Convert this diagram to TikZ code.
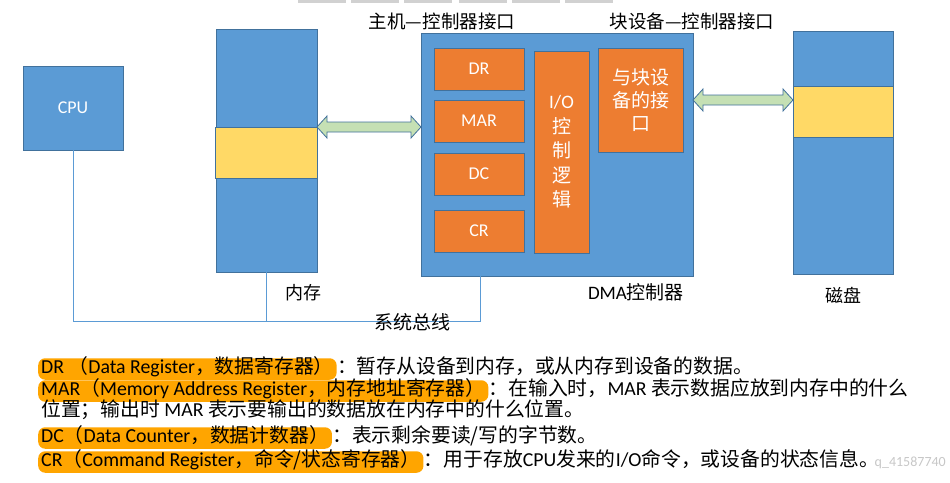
\documentclass[tikz,border=0pt]{standalone}
\usepackage{fontspec}
\setmainfont{Noto Sans CJK SC}
\newfontfamily\lat{Carlito}
\usetikzlibrary{positioning,calc}

\definecolor{boxblue}{HTML}{5B9BD5}
\definecolor{boxline}{HTML}{41719C}
\definecolor{boxorange}{HTML}{ED7D31}
\definecolor{storeyellow}{HTML}{FFD966}
\definecolor{arrowgreen}{HTML}{C5E0B4}
\definecolor{hlorange}{HTML}{FFA500}

\newcommand{\la}[1]{{\lat #1}}
% fat double arrow between two points at the height of the first one
\newcommand{\biarrow}[2]{%
  \draw[biarrowstyle] let \p1=(#1), \p2=(#2) in
    (\x1,\y1) -- (\x1+10pt,\y1+11pt) -- (\x1+10pt,\y1+5pt) -- (\x2-10pt,\y1+5pt)
    -- (\x2-10pt,\y1+11pt) -- (\x2,\y1) -- (\x2-10pt,\y1-11pt) -- (\x2-10pt,\y1-5pt)
    -- (\x1+10pt,\y1-5pt) -- (\x1+10pt,\y1-11pt) -- cycle;}

\tikzset{
  block/.style={draw=boxline, fill=boxblue, line width=0.8pt, inner sep=0pt, outer sep=0pt,
    anchor=north west, text=white, font=\lat\fontsize{18}{22}\selectfont},
  reg/.style={block, fill=boxorange, minimum width=90pt, minimum height=42pt},
  store/.style={block, fill=storeyellow},
  bus/.style={draw=boxblue, line width=0.8pt},
  biarrowstyle/.style={draw=boxline, fill=arrowgreen, line width=0.8pt},
  notefont/.style={font=\fontsize{19.8}{23}\selectfont},
  keymark/.style={notefont, fill=hlorange, rounded corners=7pt, anchor=west, inner xsep=3pt,
    inner ysep=1.5pt, text height=14pt, text depth=4.5pt},
  note/.style={notefont, inner xsep=0pt, inner ysep=1.5pt, text height=14pt, text depth=4.5pt},
  topbar/.style={fill=black!18},
}

\begin{document}
\begin{tikzpicture}[x=1pt, y=-1pt, node distance=10pt,
  every node/.style={font=\fontsize{19}{23}\selectfont}]
  \useasboundingbox (0,0) rectangle (950,482);
  \foreach \bx in {298,351,404,459,512,565}
    \fill[topbar] (\bx,0) rectangle ++(48,3);

  \node (cpu) [block, minimum width=100pt, minimum height=84pt] at (23,66) {CPU};

  \node (mem) [block, minimum width=101pt, minimum height=243pt] at (216,29) {};
  \node (memstore) [store, minimum width=102pt, minimum height=51pt] at (215,127) {};
  \node (memlabel) [font=\fontsize{18}{22}\selectfont] at (303,293) {内存};

  \node (dma) [block, minimum width=272pt, minimum height=243pt] at (421,33) {};
  \node (dr) [reg] at (434,48) {DR};
  \node (mar) [reg, below=10pt of dr] {MAR};
  \node (dc) [reg, below=11pt of mar] {DC};
  \node (cr) [reg, below=15pt of dc] {CR};
  \node (io) [reg, minimum width=55pt, minimum height=202pt, align=center,
    font=\fontsize{19}{24.5}\selectfont] at (534,51) {\la{I/O}\\控\\制\\逻\\辑};
  \node (iface) [reg, minimum width=85pt, minimum height=104pt, align=center,
    font=\fontsize{19}{23}\selectfont] at (598,48) {与块设\\备的接\\口};
  \node (dmalabel) at (636,292) {\la{DMA}控制器};

  \node (disk) [block, minimum width=100pt, minimum height=243pt] at (793,31) {};
  \node (diskstore) [store, minimum width=100pt, minimum height=51pt] at (793,86) {};
  \node (disklabel) [font=\fontsize{18}{22}\selectfont] at (843,295) {磁盘};

  \node (hostif) [font=\fontsize{18.5}{22}\selectfont] at (442,21) {主机—控制器接口};
  \node (devif) [font=\fontsize{18.5}{22}\selectfont] at (692,21) {块设备—控制器接口};

  % system bus
  \coordinate (busline) at (0,321);
  \coordinate (dmatap) at ($(dma.south west)+(59,0)$);
  \draw[bus] (cpu.south) -- (cpu.south |- busline) -- (dmatap |- busline) -- (dmatap);
  \draw[bus] (mem.south) -- (mem.south |- busline);
  \node (buslabel) at (412,322) {系统总线};

  \biarrow{memstore.north east}{memstore.north east -| dma.west}
  \biarrow{iface -| dma.east}{iface -| disk.west}

  % notes
  \node (drkey) [keymark] at (38,369) {\la{DR} （\la{Data Register}，数据寄存器）};
  \node (drnote) [note, right=0pt of drkey] {：暂存从设备到内存，或从内存到设备的数据。};
  \node (markey) [keymark] at (38,391) {\la{MAR}（\la{Memory Address Register}，内存地址寄存器）};
  \node (marnote) [note, right=0pt of markey] {：在输入时，\la{MAR} 表示数据应放到内存中的什么};
  \node (marnote2) [note, anchor=west] at (41,412) {位置；输出时 \la{MAR} 表示要输出的数据放在内存中的什么位置。};
  \node (dckey) [keymark] at (38,438) {\la{DC}（\la{Data Counter}，数据计数器）};
  \node (dcnote) [note, right=0pt of dckey] {：表示剩余要读/写的字节数。};
  \node (crkey) [keymark] at (38,462) {\la{CR}（\la{Command Register}，命令/状态寄存器）};
  \node (crnote) [note, right=0pt of crkey] {：用于存放\la{CPU}发来的\la{I/O}命令，或设备的状态信息。};
  \node (mark) [anchor=east, text=black!22, inner sep=0pt, font=\lat\fontsize{14}{16}\selectfont]
    at (946,463) {q\_41587740};
\end{tikzpicture}
\end{document}
